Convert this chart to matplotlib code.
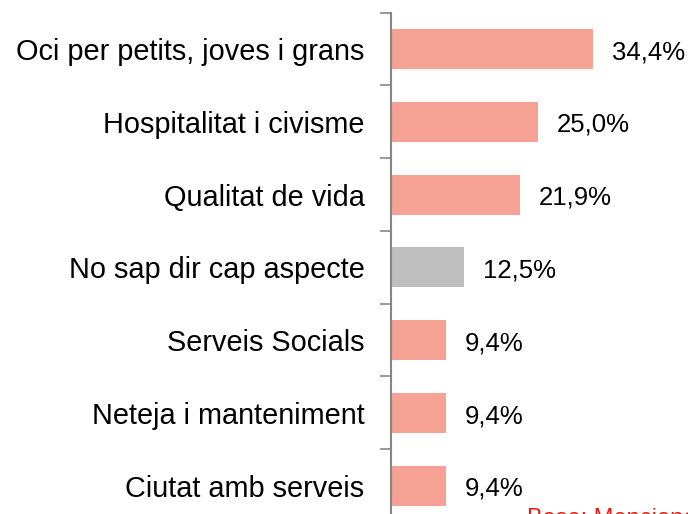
import matplotlib.pyplot as plt

plt.rcParams['font.family'] = ['Liberation Sans', 'DejaVu Sans']

# data, top to bottom
categories = ['Oci per petits, joves i grans', 'Hospitalitat i civisme', 'Qualitat de vida',
              'No sap dir cap aspecte', 'Serveis Socials', 'Neteja i manteniment', 'Ciutat amb serveis']
values = [34.4, 25.0, 21.9, 12.5, 9.4, 9.4, 9.4]
labels = ['34,4%', '25,0%', '21,9%', '12,5%', '9,4%', '9,4%', '9,4%']
colors = ['#F5A294', '#F5A294', '#F5A294', '#BFBFBF', '#F5A294', '#F5A294', '#F5A294']

W, H = 688, 514
fig = plt.figure(figsize=(W / 100, H / 100), dpi=100)

# axes placed in pixel terms: axis line at x=391, categories span y=12.6..522
x0, x1 = 391, 391 + 50 * 5.872
y_top, y_bot = 12.6, 522
ax = fig.add_axes([x0 / W, 1 - y_bot / H, (x1 - x0) / W, (y_bot - y_top) / H])

pos = list(range(len(categories)))
ax.barh(pos, values, height=0.55, color=colors, zorder=2)
ax.set_ylim(len(categories) - 0.5, -0.5)
ax.set_xlim(0, 50)

for p, v, t in zip(pos, values, labels):
    ax.text(v + 3.2, p + 0.01, t, va='center_baseline', ha='left', fontsize=18.5, color='black')

ax.set_yticks(pos)
ax.set_yticklabels(categories, fontsize=20.8, va='center_baseline')
ax.set_yticks([i - 0.5 for i in range(len(categories) + 1)], minor=True)
ax.tick_params(axis='y', which='major', length=0, pad=19)
ax.tick_params(axis='y', which='minor', length=8, width=1.2, color='#868686')
ax.set_xticks([])

for s in ['top', 'right', 'bottom']:
    ax.spines[s].set_visible(False)
ax.spines['left'].set_color('#868686')
ax.spines['left'].set_linewidth(1.5)

# footnote, cut by the bottom edge as in the reference
fig.text(527 / W, 1 - 508 / H, 'Base: Mencionen algun aspecte positiu', color='#E0201B',
         fontsize=17, ha='left', va='top')

fig.savefig('out.png', dpi=100)
